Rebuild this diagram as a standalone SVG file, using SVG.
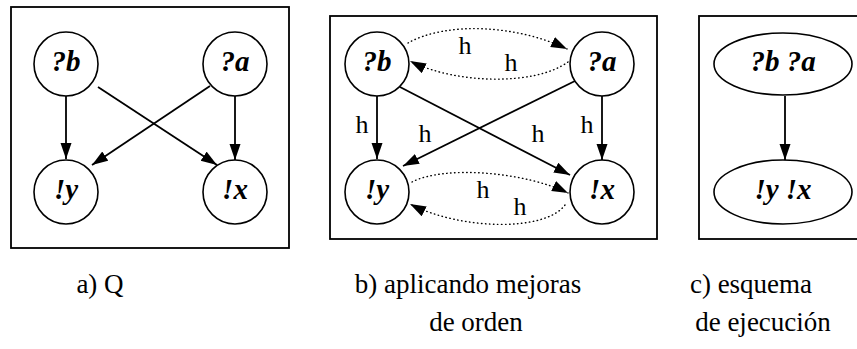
<svg xmlns="http://www.w3.org/2000/svg" width="857" height="349" viewBox="0 0 857 349">
  <style>
    .frame { fill: none; stroke: #000; stroke-width: 1.8; }
    .node { fill: #fff; stroke: #000; stroke-width: 1.6; }
    .nlabel { font-family: "Liberation Serif", "Times New Roman", serif; font-weight: bold; font-style: italic; font-size: 29px; text-anchor: middle; fill: #000; }
    .elabel { font-family: "Liberation Serif", "Times New Roman", serif; font-size: 26px; text-anchor: middle; fill: #000; }
    .caption { font-family: "Liberation Serif", "Times New Roman", serif; font-size: 27px; text-anchor: middle; fill: #000; }
    .edge { fill: none; stroke: #000; stroke-width: 1.8; marker-end: url(#head); }
    .dotted { fill: none; stroke: #000; stroke-width: 1.4; stroke-dasharray: 0.5 3.5; stroke-linecap: round; marker-end: url(#head); }
  </style>
  <defs>
    <marker id="head" markerUnits="userSpaceOnUse" markerWidth="18" markerHeight="13" refX="16" refY="5.5" orient="auto">
      <path d="M0,0 L16,5.5 L0,11 z" fill="#000"/>
    </marker>
  </defs>

  <rect width="857" height="349" fill="#fff"/>

  <!-- panel frames -->
  <rect class="frame" x="11" y="7" width="278" height="241"/>
  <rect class="frame" x="330" y="16" width="327" height="223"/>
  <rect class="frame" x="699" y="16" width="170" height="223"/>

  <!-- connectors -->
  <g id="connectors">
    <!-- a) Q -->
    <line class="edge" x1="66" y1="96" x2="66" y2="159"/>
    <line class="edge" x1="235" y1="96" x2="235" y2="160"/>
    <line class="edge" x1="98" y1="87" x2="217" y2="165"/>
    <line class="edge" x1="210" y1="86" x2="92" y2="165"/>

    <!-- b) order improvements -->
    <line class="edge" x1="377" y1="96" x2="377" y2="159"/>
    <line class="edge" x1="602" y1="96" x2="602" y2="160"/>
    <line class="edge" x1="400" y1="87" x2="570" y2="175"/>
    <line class="edge" x1="577" y1="80" x2="403" y2="166"/>
    <path class="dotted" d="M408,43 C445,22 515,24 567,49"/>
    <path class="dotted" d="M568,62 C535,86 455,84 410,61"/>
    <path class="dotted" d="M412,182 C445,165 525,172 568,193"/>
    <path class="dotted" d="M565,205 C545,232 460,230 410,204"/>

    <!-- c) execution scheme -->
    <line class="edge" x1="785" y1="96" x2="785" y2="160"/>

    <!-- edge labels -->
    <g class="elabel">
      <text x="465" y="54">h</text>
      <text x="511" y="71">h</text>
      <text x="362" y="133">h</text>
      <text x="587" y="133">h</text>
      <text x="425" y="142">h</text>
      <text x="538" y="142">h</text>
      <text x="483" y="198">h</text>
      <text x="520" y="215">h</text>
    </g>
  </g>

  <!-- a) nodes -->
  <g id="a_qb"><circle class="node" cx="66" cy="64" r="32"/><text class="nlabel" x="66" y="71">?b</text></g>
  <g id="a_qa"><circle class="node" cx="235" cy="64" r="32"/><text class="nlabel" x="235" y="71">?a</text></g>
  <g id="a_ey"><circle class="node" cx="66" cy="192" r="32"/><text class="nlabel" x="66" y="199">!y</text></g>
  <g id="a_ex"><circle class="node" cx="235" cy="192" r="32"/><text class="nlabel" x="235" y="199">!x</text></g>

  <!-- b) nodes -->
  <g id="b_qb"><circle class="node" cx="377" cy="64" r="32"/><text class="nlabel" x="377" y="71">?b</text></g>
  <g id="b_qa"><circle class="node" cx="602" cy="64" r="32"/><text class="nlabel" x="602" y="71">?a</text></g>
  <g id="b_ey"><circle class="node" cx="377" cy="192" r="32"/><text class="nlabel" x="377" y="199">!y</text></g>
  <g id="b_ex"><circle class="node" cx="602" cy="192" r="32"/><text class="nlabel" x="602" y="199">!x</text></g>

  <!-- c) nodes -->
  <g id="c_in"><ellipse class="node" cx="783" cy="64" rx="69" ry="31"/><text class="nlabel" x="783" y="71">?b ?a</text></g>
  <g id="c_out"><ellipse class="node" cx="783" cy="192" rx="69" ry="32"/><text class="nlabel" x="783" y="199">!y !x</text></g>

  <!-- captions -->
  <text class="caption" x="100" y="293">a) Q</text>
  <text class="caption" x="468" y="293">b) aplicando mejoras</text>
  <text class="caption" x="476" y="331">de orden</text>
  <text class="caption" x="751" y="293">c) esquema</text>
  <text class="caption" x="763" y="331">de ejecución</text>
</svg>
